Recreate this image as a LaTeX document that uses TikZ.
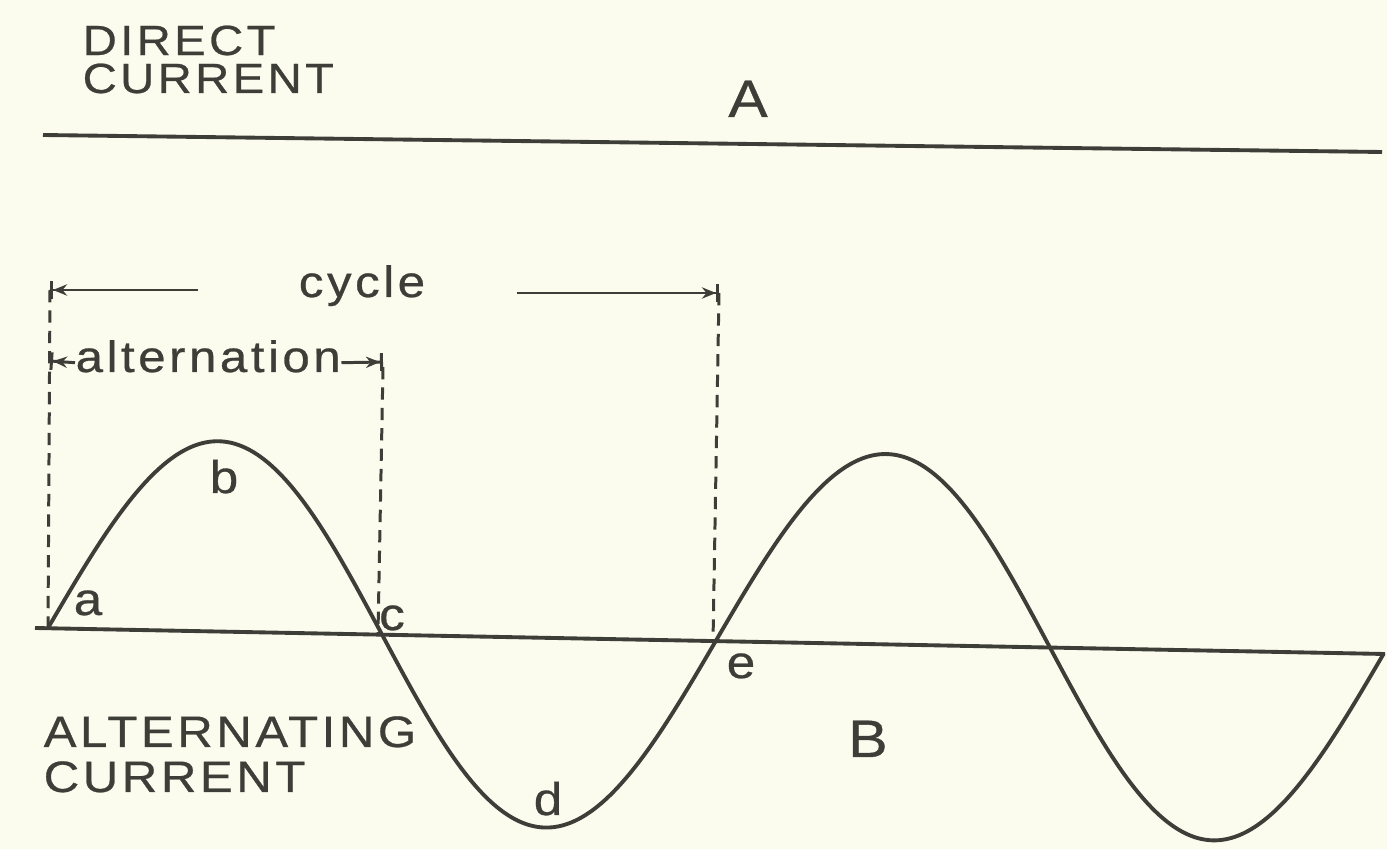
\documentclass[tikz,border=0pt]{standalone}
\usepackage{fontspec}
\setmainfont{Liberation Sans}
\newfontfamily\letterfont[LetterSpace=8,FakeStretch=1.12,FakeBold=0.6]{Liberation Sans}
\usepackage{tikz}
\usetikzlibrary{arrows.meta,positioning,calc}
\definecolor{ink}{RGB}{62,62,56}
\definecolor{paper}{RGB}{251,251,238}

\begin{document}
\begin{tikzpicture}[x=0.01cm,y=-0.01cm,
  every node/.style={text=ink,inner sep=0pt,font=\letterfont\fontsize{12.5}{15}\selectfont},
  big/.style={font=\letterfont\fontsize{15}{18}\selectfont},
  small/.style={font=\letterfont\fontsize{13}{15}\selectfont},
  line/.style={draw=ink,line width=1.1pt},
  guide/.style={draw=ink,line width=0.85pt,dash pattern=on 3.5pt off 2.3pt},
  dimL/.style={draw=ink,line width=0.85pt,{Bar[width=5pt]Stealth[length=4pt,width=3.2pt]}-},
  dimR/.style={draw=ink,line width=0.85pt,-{Stealth[length=4pt,width=3.2pt]Bar[width=5pt]}}]
\fill[paper] (0,0) rectangle (1387,849);
\useasboundingbox (0,0) rectangle (1387,849);

\node[anchor=base west,align=left,font=\letterfont\fontsize{12}{10.8}\selectfont] (dc) at (82,93) {DIRECT\\CURRENT};
\node[anchor=base west,align=left,font=\letterfont\fontsize{12.5}{12.8}\selectfont] (ac) at (43,792) {ALTERNATING\\CURRENT};

\coordinate (a1) at (43,135);
\coordinate (a2) at (1382,152);
\draw[line] (a1) -- (a2);
\node[big,anchor=base] (lblA) at (748,117) {A};

\coordinate (b1) at (35,628);
\coordinate (b2) at (1385,654);
\draw[line] (b1) -- (b2);
\begin{scope}[shift={(48,628)},rotate=-1.1]
\draw[line] plot[domain=0:1336,samples=240,smooth] (\x,{-190*sin(\x/668*360)});
\end{scope}
\node[big,anchor=base] (lblB) at (868,757) {B};

\coordinate (t1) at (50,290);
\coordinate (p1) at (48,628);
\coordinate (t2) at (383,367);
\coordinate (p2) at (378,633);
\coordinate (t3) at (719,293);
\coordinate (p3) at (713,642);
\draw[guide] (t1) -- (p1);
\draw[guide] (t2) -- (p2);
\draw[guide] (t3) -- (p3);

\node[anchor=base] (cyc) at (362,297) {cycle};
\coordinate (cycA) at (198,290);
\coordinate (cycB) at (517,293);
\draw[dimL] (t1) -- (cycA);
\draw[dimR] (cycB) -- (t3);

\node[anchor=base west] (alt) at (75,372) {alternation};
\coordinate (altL) at (50,361);
\coordinate (altR) at (383,362);
\draw[dimL] (altL) -- (alt.mid west);
\draw[dimR] (alt.mid east) -- (altR);

\node[small,anchor=base] (la) at (88,615) {a};
\node[small,anchor=base] (lb) at (224,493) {b};
\node[small,anchor=base] (lc) at (392,630) {c};
\node[small,anchor=base] (ld) at (548,815) {d};
\node[small,anchor=base] (le) at (741,678) {e};
\end{tikzpicture}
\end{document}
